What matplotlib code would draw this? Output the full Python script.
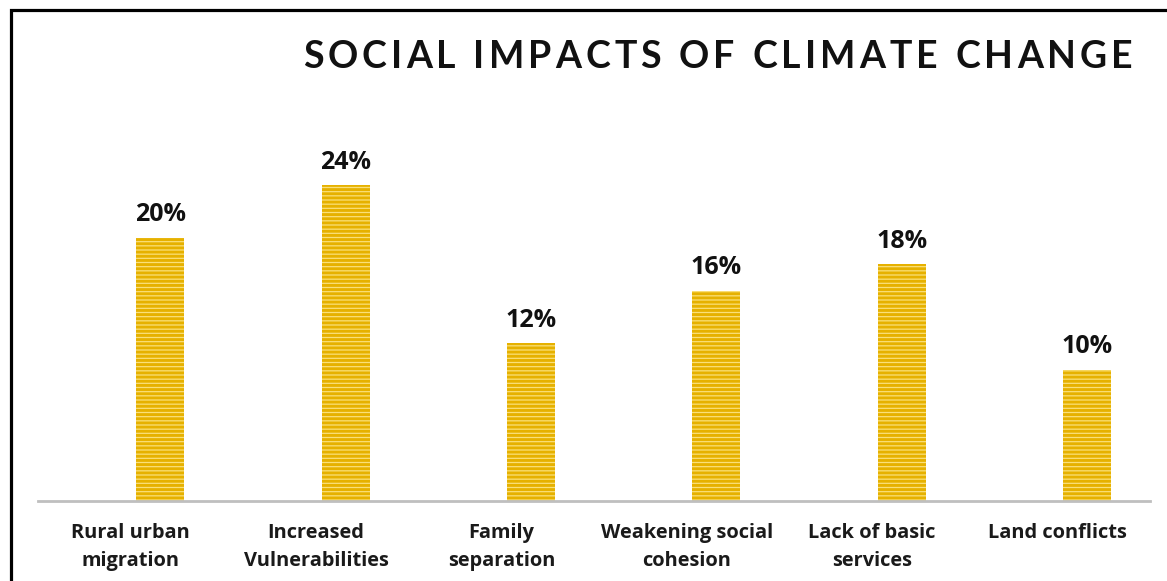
import matplotlib
matplotlib.use("Agg")
import matplotlib.pyplot as plt
from matplotlib.patches import Rectangle

categories = [
    "Rural urban\nmigration",
    "Increased\nVulnerabilities",
    "Family\nseparation",
    "Weakening social\ncohesion",
    "Lack of basic\nservices",
    "Land conflicts",
]
shares = [20, 24, 12, 16, 18, 10]
title = "SOCIAL IMPACTS OF CLIMATE CHANGE"

GOLD = "#E6B100"
PALE = "#FAE07A"
AXIS_GREY = "#BFBFBF"

plt.rcParams["font.family"] = ["Open Sans", "DejaVu Sans"]
plt.rcParams["hatch.linewidth"] = 2.1

W, H = 1167, 581
fig = plt.figure(figsize=(W / 100, H / 100), dpi=100)

# black frame running off the right and bottom edges
fig.patches.append(Rectangle((11 / W, -0.1), 1.2, (H - 10) / H + 0.1,
                             transform=fig.transFigure, fill=False,
                             edgecolor="black", linewidth=2.3))

ymax = 28
px_per_unit = 13.15
ax_bottom = 501
ax_h = ymax * px_per_unit
ax = fig.add_axes([38 / W, (H - ax_bottom) / H, 1112 / W, ax_h / H])

# bars sit right of the category centre, as in a two-slot cluster
x = list(range(len(categories)))
bar_x = [xi + 0.16 for xi in x]
ax.bar(bar_x, shares, width=0.26, color=PALE, edgecolor=GOLD, linewidth=0,
       hatch="----")
for bx, v in zip(bar_x, shares):
    ax.annotate(f"{v}%", (bx, v), xytext=(0, 12), textcoords="offset points",
                ha="center", va="baseline", fontsize=18, fontweight="bold",
                color="#111111")

ax.set_xlim(-0.5, len(categories) - 0.5)
ax.set_ylim(0, ymax)
ax.set_xticks(x)
ax.set_xticklabels(categories, fontsize=14.4, fontweight="bold",
                   color="#1a1a1a", linespacing=1.5)
ax.tick_params(axis="x", length=0, pad=16)
ax.set_yticks([])
for side in ("top", "left", "right"):
    ax.spines[side].set_visible(False)
ax.spines["bottom"].set_color(AXIS_GREY)
ax.spines["bottom"].set_linewidth(2)

# letter-spaced title, laid out one glyph at a time
renderer = fig.canvas.get_renderer()
tracking = 4.0
cx = 303
for ch in title:
    t = fig.text(cx / W, 1 - 68 / H, ch, fontsize=27, fontweight="bold",
                 family=["Lato", "DejaVu Sans"], color="#111111",
                 ha="left", va="baseline")
    if ch == " ":
        adv = 10
    else:
        adv = t.get_window_extent(renderer).width
    cx += adv + tracking

fig.savefig("out.png", dpi=100)
